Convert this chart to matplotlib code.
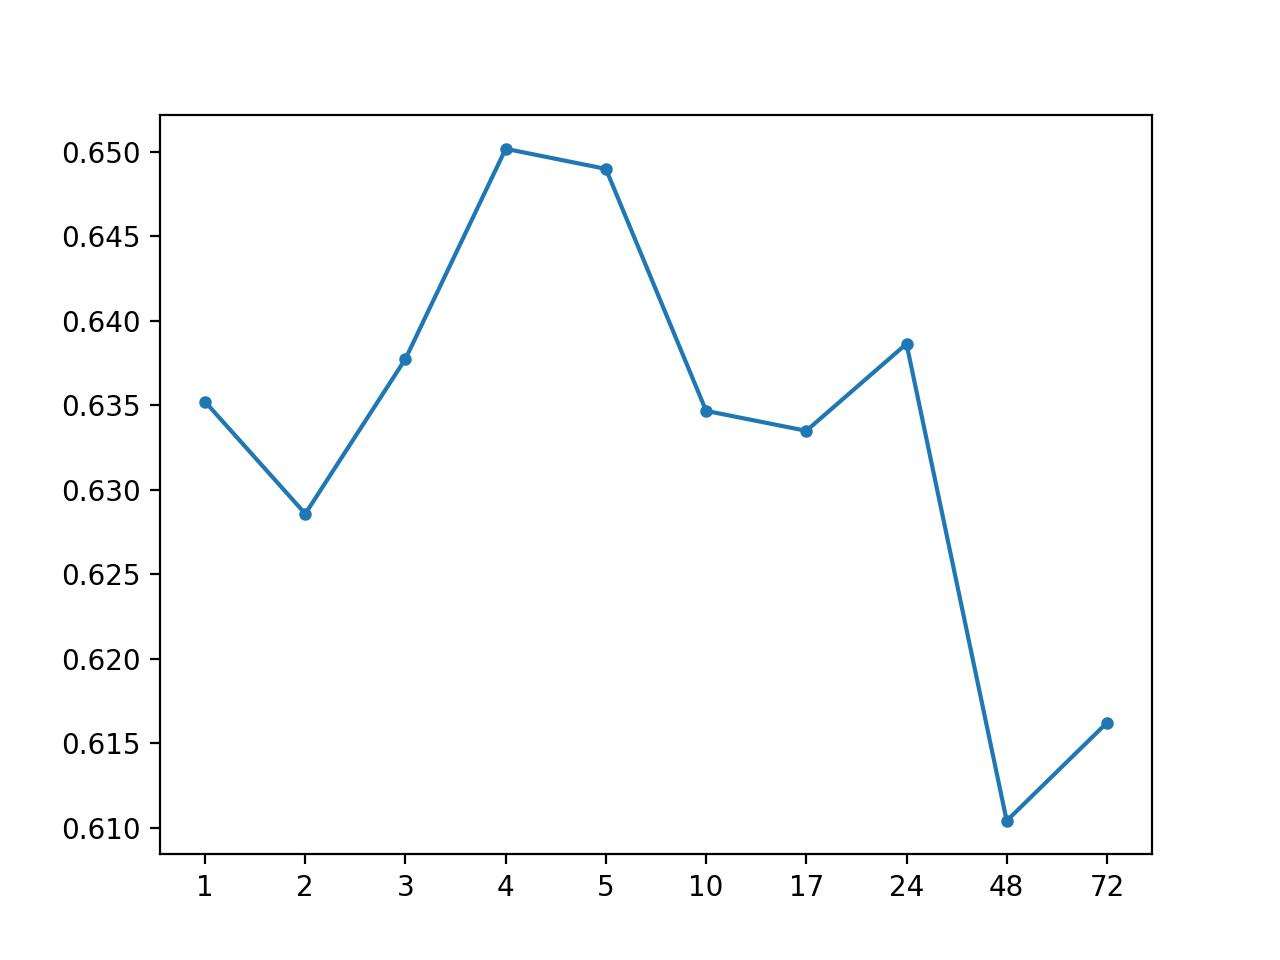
import matplotlib
matplotlib.use("Agg")
import matplotlib.pyplot as plt

hours = ["1", "2", "3", "4", "5", "10", "17", "24", "48", "72"]
scores = [0.63521, 0.62858, 0.63775, 0.65018, 0.64899,
          0.63467, 0.63349, 0.63864, 0.61041, 0.61621]

fig, ax = plt.subplots(figsize=(6.4, 4.8), dpi=200)
ax.plot(hours, scores, marker="o", markersize=3.5, linestyle="-")
fig.savefig("out.png")
